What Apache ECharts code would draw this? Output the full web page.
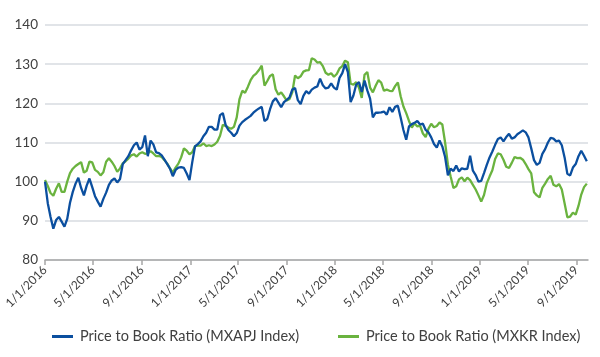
<!DOCTYPE html>
<html>
<head>
<meta charset="utf-8">
<script src="https://cdn.jsdelivr.net/npm/echarts@6/dist/echarts.min.js"></script>
<style>html,body{margin:0;padding:0;background:#fff}#c{width:600px;height:357px}</style>
</head>
<body>
<div id="c"></div>
<script>
// Weekly observations starting 2016-01-01
const startDate = '2016-01-01';
const stepDays = 7;
const seriesNames = ['Price to Book Ratio (MXAPJ Index)', 'Price to Book Ratio (MXKR Index)'];
const mxapj = [
100,94.5,91,88,90.2,91,89.8,88.5,90.5,94.6,97.4,99.5,101,98.4,96.5,99,100.8,98.6,96.3,94.9,
93.6,95.6,97.2,99.2,100.3,100.8,99.8,100.7,104.5,105.5,106.5,108,109.3,110,108.2,108.8,111.8,106.5,110.5,109.5,
107.5,107.3,106.7,105.6,104.5,103.3,101.4,103,103.6,103.7,103.5,102.1,100.4,105,109,109.6,110.3,111.6,112.5,114,
114,113.3,113.3,117,117.5,114.5,113.2,112.5,111.6,112.4,114.3,115.2,115.8,116.3,116.8,117.6,118.2,118.7,119.1,115.5,
116,118.5,120.5,121.3,120.2,119,120.3,120.9,121.5,123.5,123.9,120.8,119.8,121.9,123.1,122.5,123.5,124,124.3,126.3,
124.6,123.8,124,125.1,124,123.5,126.5,127.7,130,128,120.3,122,124.8,125.4,122.9,125.8,123.3,121.2,116.4,117.6,
117.6,117.7,117.9,117.1,119,117.8,119.1,119.4,116.4,113.2,110.7,114.1,114.7,115,115.5,114.6,114.8,113.2,112.6,111.3,
109.6,108.7,110.5,109,106.3,101.6,103.3,102.7,104.1,102.6,103.4,103.2,103.3,106.6,102.8,101.7,100,100.2,102.2,104.3,
106.2,107.7,109.4,110.9,111.3,110.3,111.4,112.2,111,111.3,112.1,112.6,113.1,112.6,111.3,108.5,105.5,104.3,104.8,107.1,
108.3,110,111.2,111,110.3,110.5,109.3,106.2,102,101.6,103.6,104.5,106.5,107.9,106.6,105.2
];
const mxkr = [
100.4,98.9,97.1,96.4,98.2,99.6,97.4,97.4,100,102.2,103.3,104,104.5,105,102.3,102.8,105.1,104.9,103,102.5,
101.6,102.4,105.1,106,105.1,104,102.5,103.4,104.7,105.2,105.9,106.7,107,106.4,107.2,107.5,107.1,107.2,107.8,107.2,
106.5,106.6,106.3,105.5,104.6,103.4,102.3,103.6,104.6,106.2,108.5,107.9,107,107.5,109.1,109.2,109.2,109.8,109.1,109.3,
109.1,109.5,110.2,111.7,114.5,114.2,113.8,113.5,114,116.4,121.1,123.2,122.7,124.2,125.9,127,127.6,128.5,129.6,124.5,
125.7,127,127.4,123.6,122.2,122.8,121.8,120.7,121.1,122.8,127.1,126.4,126.9,128.1,128.4,128.5,131.5,131.2,130.4,130.5,
129.5,127.8,127.3,127.7,126.8,127.5,128.9,129.5,130.9,130.5,125,124.8,125.4,124,121.4,127.3,128,124,122.8,124.5,
125.9,125.3,123.2,123.5,123.2,123.1,124.4,125.3,121.8,119.2,117.5,115.5,113.8,114.9,114.1,114.3,112.3,111.4,113.5,114.8,
113.9,114.2,115.1,114.6,110,104.4,101.3,98.4,98.8,100.6,101.1,100.1,101,100.4,99.2,98,96.5,94.9,96.6,99.6,
101.3,102.9,105.8,107.2,107,105.6,103.8,103.5,104.8,106.3,106,106.1,105.6,104.5,103.2,102.1,97.3,96.5,96,98.4,
99.5,100.7,101.5,99.2,98.8,99.4,98,94.5,90.9,91.1,92.1,91.6,93.8,96.7,98.6,99.5
];
const tickDates = ['2016-01-01','2016-05-01','2016-09-01','2017-01-01','2017-05-01','2017-09-01',
  '2018-01-01','2018-05-01','2018-09-01','2019-01-01','2019-05-01','2019-09-01'];
const tickLabels = ['1/1/2016','5/1/2016','9/1/2016','1/1/2017','5/1/2017','9/1/2017',
  '1/1/2018','5/1/2018','9/1/2018','1/1/2019','5/1/2019','9/1/2019'];
const xMin = '2016-01-01';
const xMax = '2019-09-30';
const yMin = 80, yMax = 140, yStep = 10;

const DAY = 86400000;
const t0 = Date.parse(startDate + 'T00:00:00Z');
const stamps = mxapj.map((_, i) => t0 + i * stepDays * DAY);
const tickStamps = tickDates.map(d => Date.parse(d + 'T00:00:00Z'));
const font = 'Lato, "Noto Sans", sans-serif';

const legendBase = {
  top: 324, itemWidth: 21, itemHeight: 3, icon: 'rect',
  textStyle: {fontFamily: font, fontSize: 14.5, color: '#404040', padding: [0, 0, 0, 2]}
};

const chart = echarts.init(document.getElementById('c'), null, {renderer: 'canvas'});
chart.setOption({
  animation: false,
  color: ['#0b4f9f', '#6ab33f'],
  grid: {left: 45, right: 12, top: 25, bottom: 97, containLabel: false},
  legend: [
    Object.assign({left: 47, data: [seriesNames[0]]}, legendBase),
    Object.assign({left: 333, data: [seriesNames[1]]}, legendBase)
  ],
  xAxis: {
    type: 'value',
    min: Date.parse(xMin + 'T00:00:00Z'),
    max: Date.parse(xMax + 'T00:00:00Z'),
    axisLine: {show: true, lineStyle: {color: '#a6a6a6', width: 1.5}},
    axisTick: {show: true, customValues: tickStamps, length: 5, lineStyle: {color: '#a6a6a6', width: 1.5}},
    axisLabel: {
      customValues: tickStamps, rotate: 45, margin: 8,
      fontFamily: font, fontSize: 12, color: '#404040',
      formatter: v => { const k = tickStamps.indexOf(v); return k >= 0 ? tickLabels[k] : ''; }
    },
    splitLine: {show: false}
  },
  yAxis: {
    type: 'value', min: yMin, max: yMax, interval: yStep,
    axisLine: {show: false}, axisTick: {show: false},
    axisLabel: {fontFamily: font, fontSize: 13.5, color: '#404040', margin: 7},
    splitLine: {lineStyle: {color: '#d7dbe0', width: 1.5}}
  },
  series: [
    {name: seriesNames[0], type: 'line', showSymbol: false, symbol: 'none',
     lineStyle: {width: 2.3}, data: mxapj.map((v, i) => [stamps[i], v]), z: 3},
    {name: seriesNames[1], type: 'line', showSymbol: false, symbol: 'none',
     lineStyle: {width: 2.3}, data: mxkr.map((v, i) => [stamps[i], v]), z: 2}
  ]
});
</script>
</body>
</html>
